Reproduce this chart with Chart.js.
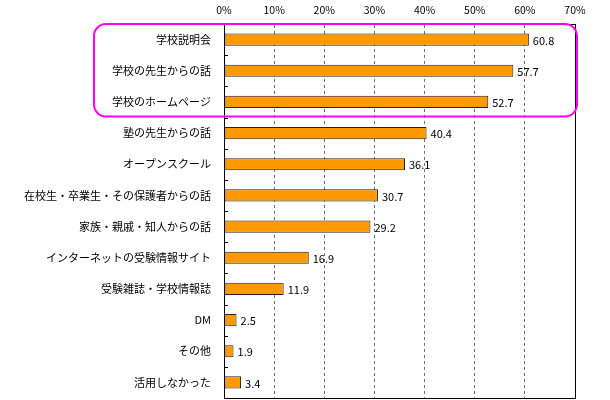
<!DOCTYPE html>
<html>
<head>
<meta charset="utf-8">
<script src="https://cdn.jsdelivr.net/npm/chart.js@4/dist/chart.umd.min.js"></script>
<style>
  html, body { margin:0; padding:0; background:#fff; }
  #wrap { width:610px; height:400px; }
</style>
</head>
<body>
<div id="wrap"><canvas id="c"></canvas></div>
<script>
const categories = ['学校説明会','学校の先生からの話','学校のホームページ','塾の先生からの話','オープンスクール','在校生・卒業生・その保護者からの話','家族・親戚・知人からの話','インターネットの受験情報サイト','受験雑誌・学校情報誌','DM','その他','活用しなかった'];
const values = [60.8, 57.7, 52.7, 40.4, 36.1, 30.7, 29.2, 16.9, 11.9, 2.5, 1.9, 3.4];
const xTicks = [0, 10, 20, 30, 40, 50, 60, 70];
const highlighted = 3; // first three rows are circled

const FONT = '"Noto Sans CJK JP", "Liberation Sans", sans-serif';

// value labels at bar ends
const valueLabels = {
  id: 'valueLabels',
  afterDatasetsDraw(chart){
    const ctx = chart.ctx, meta = chart.getDatasetMeta(0);
    ctx.save();
    ctx.font = '11px ' + FONT;
    ctx.fillStyle = '#000';
    ctx.textBaseline = 'middle';
    meta.data.forEach((bar, i) => {
      ctx.fillText(values[i].toFixed(1), bar.x + 4, bar.y + 1);
    });
    ctx.restore();
  }
};

// frame, inner ticks and highlight box
const frame = {
  id: 'frame',
  afterDraw(chart){
    const ctx = chart.ctx, a = chart.chartArea, y = chart.scales.y;
    const band = (a.bottom - a.top) / categories.length;
    ctx.save();
    ctx.strokeStyle = '#000';
    ctx.lineWidth = 1;
    ctx.strokeRect(Math.round(a.left) + 0.5, Math.round(a.top) + 0.5, Math.round(a.right - a.left), Math.round(a.bottom - a.top));
    ctx.beginPath();
    for (let i = 1; i < categories.length; i++){
      const yy = Math.round(y.getPixelForValue(i) - band / 2) + 0.5;
      ctx.moveTo(a.left, yy); ctx.lineTo(a.left + 4, yy);
    }
    ctx.stroke();
    // magenta rounded box
    const top = a.top, bot = a.top + band * highlighted - 1;
    const left = a.left - 130, right = a.right + 2, r = 12;
    ctx.strokeStyle = '#ff00ff';
    ctx.lineWidth = 2;
    ctx.beginPath();
    ctx.roundRect(left, top, right - left, bot - top, r);
    ctx.stroke();
    ctx.restore();
  }
};

new Chart(document.getElementById('c'), {
  type: 'bar',
  data: {
    labels: categories,
    datasets: [{
      data: values,
      backgroundColor: '#ff9900',
      borderColor: '#222222',
      borderWidth: 1,
      borderSkipped: false,
      categoryPercentage: 1,
      barPercentage: 0.39
    }]
  },
  options: {
    indexAxis: 'y',
    responsive: true,
    maintainAspectRatio: false,
    animation: false,
    layout: { padding: { left: 0, right: 35, top: 0, bottom: 2 } },
    plugins: { legend: { display: false }, tooltip: { enabled: false } },
    scales: {
      x: {
        position: 'top',
        min: 0, max: 70,
        afterBuildTicks(s){ s.ticks = xTicks.map(v => ({ value: v })); },
        afterFit(s){ s.height = 24; s.paddingLeft = 0; s.paddingRight = 0; },
        ticks: {
          callback: v => v + '%',
          font: { size: 10.5, family: FONT },
          color: '#000',
          padding: 8
        },
        grid: {
          color: ctx => (ctx.tick && (ctx.tick.value === 0 || ctx.tick.value === 70)) ? 'rgba(0,0,0,0)' : '#707070',
          drawTicks: false
        },
        border: { display: true, color: '#000', dash: [3, 3] }
      },
      y: {
        afterFit(s){ s.width = 224; s.paddingTop = 0; s.paddingBottom = 0; },
        ticks: {
          font: { size: 11, family: FONT },
          color: '#000',
          padding: 5
        },
        grid: { display: false },
        border: { display: true, color: '#000' }
      }
    }
  },
  plugins: [valueLabels, frame]
});
</script>
</body>
</html>
